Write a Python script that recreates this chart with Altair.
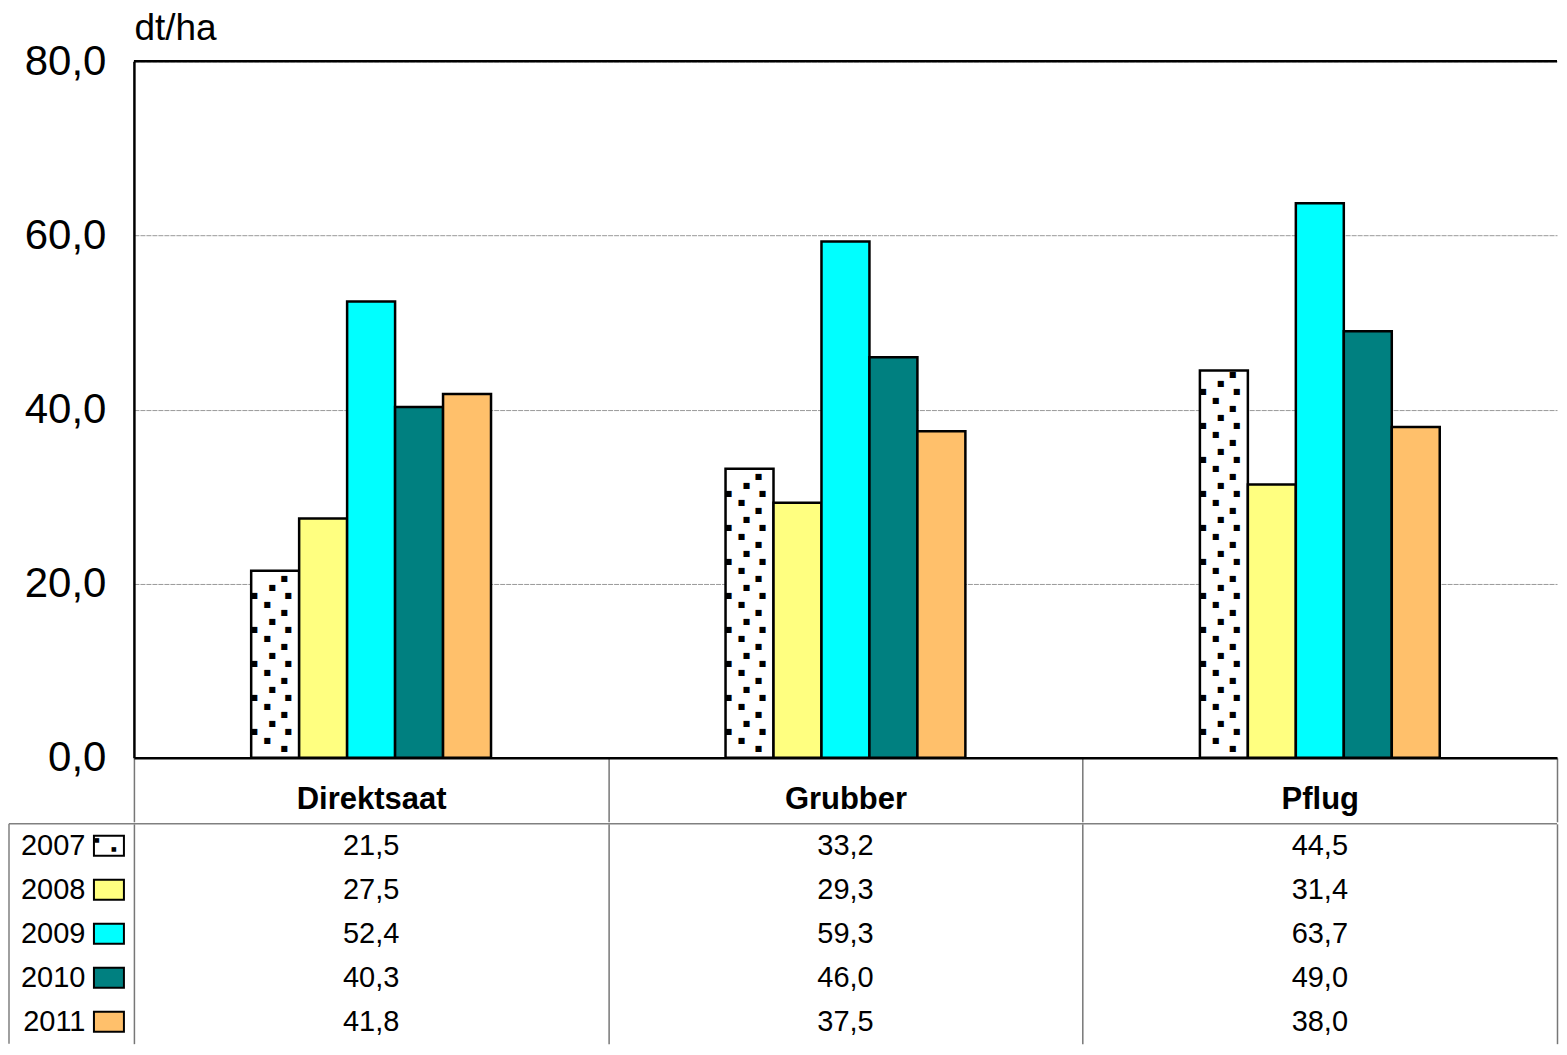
import altair as alt
import pandas as pd

categories = ["Direktsaat", "Grubber", "Pflug"]
years = ["2007", "2008", "2009", "2010", "2011"]
v2007 = [21.5, 33.2, 44.5]
v2008 = [27.5, 29.3, 31.4]
v2009 = [52.4, 59.3, 63.7]
v2010 = [40.3, 46.0, 49.0]
v2011 = [41.8, 37.5, 38.0]
series = [v2007, v2008, v2009, v2010, v2011]
colors = ["#FFFFFF", "#FFFF80", "#00FFFF", "#008080", "#FFC06B"]
y_ticks = [0, 20, 40, 60, 80]
y_max = 80

W = 1424
H = 697
HB = 220
BAR_W = 48
FONT = "Liberation Sans"

rows = []
for i, c in enumerate(categories):
    for yr, vals in zip(years, series):
        rows.append({"category": c, "year": yr, "value": vals[i],
                     "label": f"{vals[i]:.1f}".replace(".", ",")})
df = pd.DataFrame(rows)

# dotted texture for the 2007 bars (pixel pattern converted to data units)
px = y_max / H
tile = [(0, 20), (9, 32), (17, 15), (26, 2), (26, 36)]
dots = []
for i, c in enumerate(categories):
    top_px = v2007[i] / px
    t = 0
    while 34 * t < top_px:
        for up, col in tile:
            h = 34 * t + up
            if h < 3 or h > top_px - 4:
                continue
            dots.append({"category": c, "y": h * px, "col": col})
        t += 1
dots_df = pd.DataFrame(dots)

band = W / len(categories)
group_w = len(years) * BAR_W
group_left = -group_w / 2

x_top = alt.X("category:N", sort=categories, title=None,
              scale=alt.Scale(paddingInner=0, paddingOuter=0),
              axis=alt.Axis(tickBand="extent", tickSize=64, tickColor="#777777", tickWidth=1.5,
                            domainColor="black", domainWidth=2.5, labelFontWeight="bold",
                            labelFontSize=31, labelPadding=-22, labelBaseline="middle",
                            labelAngle=0, grid=False, labelColor="black"))
y_enc = alt.Y("value:Q", title="dt/ha",
              scale=alt.Scale(domain=[0, y_max], nice=False),
              axis=alt.Axis(values=y_ticks, labelExpr="replace(format(datum.value, '.1f'), '.', ',')",
                            labelFontSize=42, labelPadding=28, ticks=False, domainColor="black",
                            domainWidth=2.5, gridColor="#999999", gridDash=[5, 1], gridWidth=1,
                            titleAngle=0, titleX=0, titleY=-33, titleAlign="left",
                            titleBaseline="middle", titleFontSize=37, titleFontWeight="normal",
                            labelColor="black", titleColor="black"))
color_enc = alt.Fill("year:N", scale=alt.Scale(domain=years, range=colors), legend=None)

bars = alt.Chart(df).mark_bar(stroke="black", strokeWidth=2.5).encode(
    x=x_top,
    xOffset=alt.XOffset("year:N", sort=years,
                        scale=alt.Scale(paddingInner=0, paddingOuter=0,
                                        range=[band / 2 - group_w / 2, band / 2 + group_w / 2])),
    y=y_enc,
    fill=color_enc,
)

dot_layers = []
for col in sorted(set(c for _, c in tile)):
    sub = dots_df[dots_df["col"] == col]
    dot_layers.append(
        alt.Chart(sub).mark_text(text="\u25A0", font="DejaVu Sans", fontSize=8, color="black",
                                 baseline="middle", align="center",
                                 dx=group_left + col + 1).encode(
            x=x_top, y=alt.Y("y:Q", scale=alt.Scale(domain=[0, y_max], nice=False))
        )
    )

one = pd.DataFrame({"k": [0]})
top_border = alt.Chart(one).mark_rule(color="black", strokeWidth=2.5).encode(
    x=alt.value(0), x2=alt.value(W), y=alt.value(0))

top = alt.layer(bars, *dot_layers, top_border).properties(width=W, height=H)

# data table below
x_tab = alt.X("category:N", sort=categories, title=None,
              scale=alt.Scale(paddingInner=0, paddingOuter=0),
              axis=alt.Axis(labels=False, ticks=False, domain=False, grid=True,
                            gridColor="#777777", gridWidth=1.5, tickBand="extent"))
y_tab = alt.Y("year:N", sort=years, title=None,
              scale=alt.Scale(paddingInner=0, paddingOuter=0),
              axis=alt.Axis(ticks=False, domain=False, labelFontSize=29, labelPadding=49,
                            labelColor="black", grid=False))

values_text = alt.Chart(df).mark_text(fontSize=29, color="black").encode(
    x=x_tab, y=y_tab, text="label:N")

swatch_df = pd.DataFrame({"year": years})
swatches = alt.Chart(swatch_df).mark_point(
    shape="M-1,-0.667L1,-0.667L1,0.667L-1,0.667Z", size=900, filled=True,
    stroke="black", strokeWidth=2, opacity=1).encode(
    x=alt.value(-25), y=alt.Y("year:N", sort=years), fill=color_enc)

first_year = swatch_df[swatch_df["year"] == "2007"]
dot_a = alt.Chart(first_year).mark_text(
    text="\u25A0", font="DejaVu Sans", fontSize=6, color="black", baseline="middle",
    dx=-12, dy=-6).encode(x=alt.value(-25), y=alt.Y("year:N", sort=years))
dot_b = alt.Chart(first_year).mark_text(
    text="\u25A0", font="DejaVu Sans", fontSize=6, color="black", baseline="middle",
    dx=5, dy=3).encode(x=alt.value(-25), y=alt.Y("year:N", sort=years))

tab_top = alt.Chart(one).mark_rule(color="#808080", strokeWidth=1.5).encode(
    x=alt.value(-125), x2=alt.value(W), y=alt.value(0))
tab_left = alt.Chart(one).mark_rule(color="#808080", strokeWidth=1.5).encode(
    x=alt.value(-125), y=alt.value(0), y2=alt.value(HB))

table = alt.layer(values_text, swatches, dot_a, dot_b, tab_top, tab_left).properties(width=W, height=HB)

chart = alt.vconcat(top, table, spacing=0).properties(
    padding={"left": 0, "top": 1, "right": 0, "bottom": 0}
).configure(font=FONT).configure_view(stroke=None).configure_axis(
    labelFont=FONT, titleFont=FONT)

chart.save("out.html", embed_options={"renderer": "svg", "actions": False})
